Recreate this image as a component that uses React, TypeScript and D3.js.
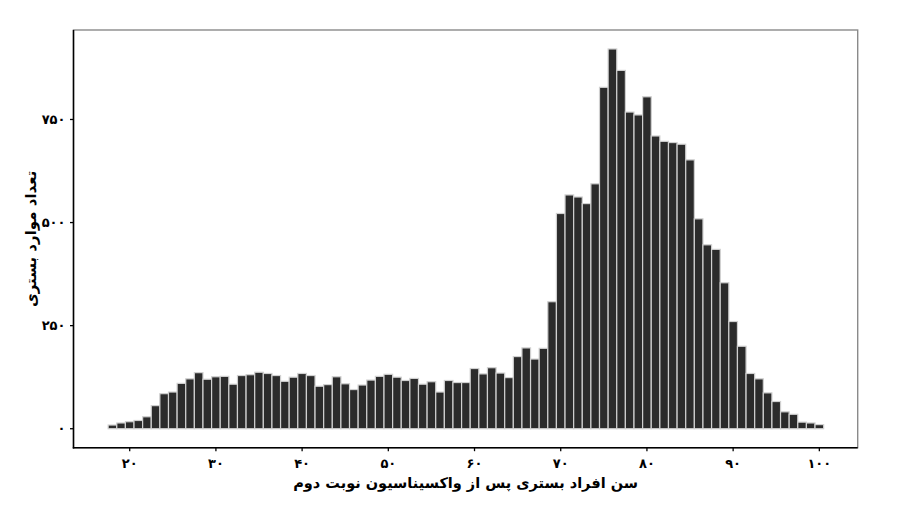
import React from "react";
import * as d3 from "d3";

const ages: number[] = [
  18, 19, 20, 21, 22, 23, 24, 25, 26, 27, 28, 29, 30, 31, 32, 33, 34, 35, 36, 37,
  38, 39, 40, 41, 42, 43, 44, 45, 46, 47, 48, 49, 50, 51, 52, 53, 54, 55, 56, 57,
  58, 59, 60, 61, 62, 63, 64, 65, 66, 67, 68, 69, 70, 71, 72, 73, 74, 75, 76, 77,
  78, 79, 80, 81, 82, 83, 84, 85, 86, 87, 88, 89, 90, 91, 92, 93, 94, 95, 96, 97,
  98, 99, 100,
];
const counts: number[] = [
  9, 14, 17, 20, 29, 56, 85, 89, 110, 121, 136, 120, 126, 127, 108, 129, 131, 137, 134, 129,
  115, 125, 134, 129, 103, 107, 126, 109, 95, 106, 118, 127, 132, 125, 117, 122, 108, 114, 89, 117,
  112, 112, 146, 133, 148, 135, 124, 175, 196, 169, 195, 308, 522, 567, 562, 546, 594, 828, 921, 869,
  768, 761, 805, 710, 697, 694, 690, 652, 509, 446, 435, 354, 260, 200, 134, 121, 87, 66, 41, 35,
  16, 14, 10,
];
const xTicks: number[] = [20, 30, 40, 50, 60, 70, 80, 90, 100];
const yTicks: number[] = [0, 250, 500, 750];
const xTitle = "سن افراد بستری پس از واکسیناسیون نوبت دوم";
const yTitle = "تعداد موارد بستری";

const toPersian = (n: number) =>
  String(n).replace(/[0-9]/g, (d) => "۰۱۲۳۴۵۶۷۸۹"[+d]);

export default function App() {
  const W = 920, H = 510;
  const left = 73.5, right = 857.7, top = 30, bottom = 447.7;
  const x = d3.scaleLinear().domain([13.48, 104.45]).range([left, right]);
  const y = d3.scaleLinear().domain([-46, 967]).range([bottom, top]);
  const font = "'DejaVu Sans', sans-serif";
  const data = ages.map((a, i) => ({ a, c: counts[i] }));
  return (
    <svg width={W} height={H} style={{ position: "absolute", left: 0, top: 0, background: "#fff" }}>
      <rect x={0} y={0} width={W} height={H} fill="#fff" />
      {data.map((d) => (
        <rect
          key={d.a}
          x={x(d.a - 0.5)}
          y={y(d.c)}
          width={x(d.a + 0.5) - x(d.a - 0.5)}
          height={y(0) - y(d.c)}
          fill="#2b2b2b"
          stroke="#d0d0d0"
          strokeWidth={1.2}
        />
      ))}
      <rect x={left} y={top} width={right - left} height={bottom - top} fill="none" stroke="#8a8a8a" strokeWidth={1.4} />
      <line x1={left} x2={left} y1={top} y2={bottom + 0.7} stroke="#000" strokeWidth={1.5} />
      <line x1={left - 0.7} x2={right} y1={bottom} y2={bottom} stroke="#000" strokeWidth={1.5} />
      {yTicks.map((t) => (
        <g key={t}>
          <line x1={left - 3.5} x2={left} y1={y(t)} y2={y(t)} stroke="#000" strokeWidth={1.3} />
          <text x={left - 8} y={y(t)} dy="0.35em" textAnchor="end" fontFamily={font} fontWeight="bold" fontSize={13} fill="#000">
            {toPersian(t)}
          </text>
        </g>
      ))}
      {xTicks.map((t) => (
        <g key={t}>
          <line x1={x(t)} x2={x(t)} y1={bottom} y2={bottom + 3.5} stroke="#000" strokeWidth={1.3} />
          <text x={x(t)} y={bottom + 16} dy="0.35em" textAnchor="middle" fontFamily={font} fontWeight="bold" fontSize={13} fill="#000">
            {toPersian(t)}
          </text>
        </g>
      ))}
      <text x={(left + right) / 2} y={488} textAnchor="middle" direction="rtl" fontFamily={font} fontWeight="bold" fontSize={14.5} fill="#000">
        {xTitle}
      </text>
      <text
        transform={`translate(31, ${(top + bottom) / 2}) rotate(-90)`}
        textAnchor="middle"
        dy="0.35em"
        direction="rtl"
        fontFamily={font}
        fontWeight="bold"
        fontSize={15}
        fill="#000"
      >
        {yTitle}
      </text>
    </svg>
  );
}
